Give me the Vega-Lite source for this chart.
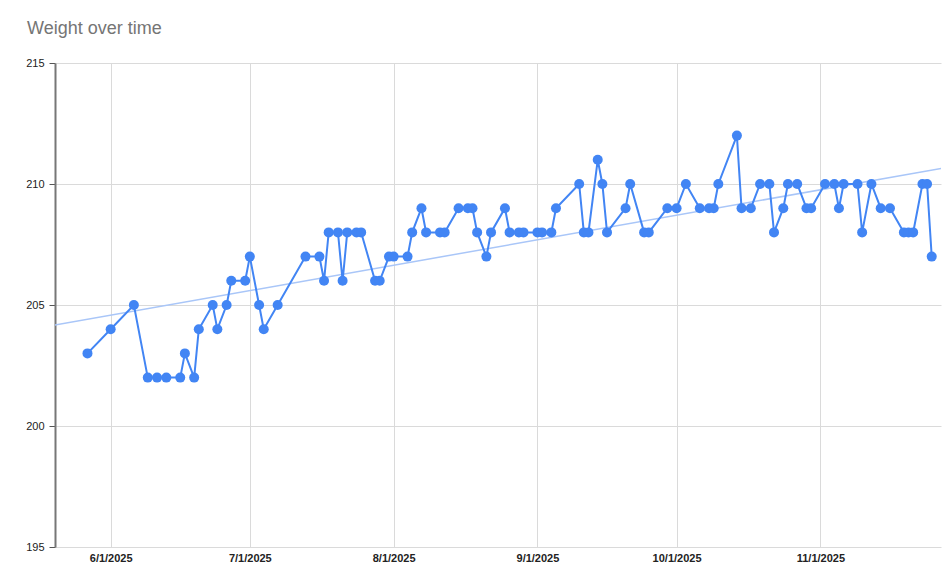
{
  "$schema": "https://vega.github.io/schema/vega-lite/v6.json",
  "width": 886,
  "height": 484,
  "autosize": {"type": "none"},
  "padding": {"left": 55, "top": 63, "right": 4, "bottom": 37},
  "background": "white",
  "title": {
    "text": "Weight over time",
    "anchor": "start",
    "frame": "group",
    "fontSize": 18,
    "fontWeight": "normal",
    "font": "Liberation Sans",
    "color": "#757575",
    "baseline": "alphabetic",
    "offset": 5,
    "dx": -28
  },
  "config": {
    "view": {"stroke": null},
    "font": "Liberation Sans"
  },
  "data": {
    "values": [
      {"date": "2025-05-27T00:00", "w": 203},
      {"date": "2025-06-01T00:00", "w": 204},
      {"date": "2025-06-06T00:00", "w": 205},
      {"date": "2025-06-09T00:00", "w": 202},
      {"date": "2025-06-11T00:00", "w": 202},
      {"date": "2025-06-13T00:00", "w": 202},
      {"date": "2025-06-16T00:00", "w": 202},
      {"date": "2025-06-17T00:00", "w": 203},
      {"date": "2025-06-19T00:00", "w": 202},
      {"date": "2025-06-20T00:00", "w": 204},
      {"date": "2025-06-23T00:00", "w": 205},
      {"date": "2025-06-24T00:00", "w": 204},
      {"date": "2025-06-26T00:00", "w": 205},
      {"date": "2025-06-27T00:00", "w": 206},
      {"date": "2025-06-30T00:00", "w": 206},
      {"date": "2025-07-01T00:00", "w": 207},
      {"date": "2025-07-03T00:00", "w": 205},
      {"date": "2025-07-04T00:00", "w": 204},
      {"date": "2025-07-07T00:00", "w": 205},
      {"date": "2025-07-13T00:00", "w": 207},
      {"date": "2025-07-16T00:00", "w": 207},
      {"date": "2025-07-17T00:00", "w": 206},
      {"date": "2025-07-18T00:00", "w": 208},
      {"date": "2025-07-20T00:00", "w": 208},
      {"date": "2025-07-21T00:00", "w": 206},
      {"date": "2025-07-22T00:00", "w": 208},
      {"date": "2025-07-24T00:00", "w": 208},
      {"date": "2025-07-25T00:00", "w": 208},
      {"date": "2025-07-28T00:00", "w": 206},
      {"date": "2025-07-29T00:00", "w": 206},
      {"date": "2025-07-31T00:00", "w": 207},
      {"date": "2025-08-01T00:00", "w": 207},
      {"date": "2025-08-04T00:00", "w": 207},
      {"date": "2025-08-05T00:00", "w": 208},
      {"date": "2025-08-07T00:00", "w": 209},
      {"date": "2025-08-08T00:00", "w": 208},
      {"date": "2025-08-11T00:00", "w": 208},
      {"date": "2025-08-12T00:00", "w": 208},
      {"date": "2025-08-15T00:00", "w": 209},
      {"date": "2025-08-17T00:00", "w": 209},
      {"date": "2025-08-18T00:00", "w": 209},
      {"date": "2025-08-19T00:00", "w": 208},
      {"date": "2025-08-21T00:00", "w": 207},
      {"date": "2025-08-22T00:00", "w": 208},
      {"date": "2025-08-25T00:00", "w": 209},
      {"date": "2025-08-26T00:00", "w": 208},
      {"date": "2025-08-28T00:00", "w": 208},
      {"date": "2025-08-29T00:00", "w": 208},
      {"date": "2025-09-01T00:00", "w": 208},
      {"date": "2025-09-02T00:00", "w": 208},
      {"date": "2025-09-04T00:00", "w": 208},
      {"date": "2025-09-05T00:00", "w": 209},
      {"date": "2025-09-10T00:00", "w": 210},
      {"date": "2025-09-11T00:00", "w": 208},
      {"date": "2025-09-12T00:00", "w": 208},
      {"date": "2025-09-14T00:00", "w": 211},
      {"date": "2025-09-15T00:00", "w": 210},
      {"date": "2025-09-16T00:00", "w": 208},
      {"date": "2025-09-20T00:00", "w": 209},
      {"date": "2025-09-21T00:00", "w": 210},
      {"date": "2025-09-24T00:00", "w": 208},
      {"date": "2025-09-25T00:00", "w": 208},
      {"date": "2025-09-29T00:00", "w": 209},
      {"date": "2025-10-01T00:00", "w": 209},
      {"date": "2025-10-03T00:00", "w": 210},
      {"date": "2025-10-06T00:00", "w": 209},
      {"date": "2025-10-08T00:00", "w": 209},
      {"date": "2025-10-09T00:00", "w": 209},
      {"date": "2025-10-10T00:00", "w": 210},
      {"date": "2025-10-14T00:00", "w": 212},
      {"date": "2025-10-15T00:00", "w": 209},
      {"date": "2025-10-17T00:00", "w": 209},
      {"date": "2025-10-19T00:00", "w": 210},
      {"date": "2025-10-21T00:00", "w": 210},
      {"date": "2025-10-22T00:00", "w": 208},
      {"date": "2025-10-24T00:00", "w": 209},
      {"date": "2025-10-25T00:00", "w": 210},
      {"date": "2025-10-27T00:00", "w": 210},
      {"date": "2025-10-29T00:00", "w": 209},
      {"date": "2025-10-30T00:00", "w": 209},
      {"date": "2025-11-02T00:00", "w": 210},
      {"date": "2025-11-04T00:00", "w": 210},
      {"date": "2025-11-05T00:00", "w": 209},
      {"date": "2025-11-06T00:00", "w": 210},
      {"date": "2025-11-09T00:00", "w": 210},
      {"date": "2025-11-10T00:00", "w": 208},
      {"date": "2025-11-12T00:00", "w": 210},
      {"date": "2025-11-14T00:00", "w": 209},
      {"date": "2025-11-16T00:00", "w": 209},
      {"date": "2025-11-19T00:00", "w": 208},
      {"date": "2025-11-20T00:00", "w": 208},
      {"date": "2025-11-21T00:00", "w": 208},
      {"date": "2025-11-23T00:00", "w": 210},
      {"date": "2025-11-24T00:00", "w": 210},
      {"date": "2025-11-25T00:00", "w": 207}
    ],
    "format": {"parse": {"date": "date"}}
  },
  "encoding": {
    "x": {
      "field": "date",
      "type": "temporal",
      "title": null,
      "scale": {
        "domain": [
          {"year": 2025, "month": 5, "date": 20},
          {"year": 2025, "month": 11, "date": 27}
        ]
      },
      "axis": {
        "values": [
          {"year": 2025, "month": 6, "date": 1},
          {"year": 2025, "month": 7, "date": 1},
          {"year": 2025, "month": 8, "date": 1},
          {"year": 2025, "month": 9, "date": 1},
          {"year": 2025, "month": 10, "date": 1},
          {"year": 2025, "month": 11, "date": 1}
        ],
        "format": "%-m/%-d/%Y",
        "domain": false,
        "ticks": false,
        "grid": true,
        "gridColor": "#dadada",
        "gridWidth": 1,
        "labelPadding": 5,
        "labelFontSize": 11,
        "labelFontWeight": "bold",
        "labelColor": "#222222",
        "labelFont": "Liberation Sans"
      }
    },
    "y": {
      "field": "w",
      "type": "quantitative",
      "title": null,
      "scale": {"domain": [195, 215], "nice": false, "zero": false},
      "axis": {
        "values": [195, 200, 205, 210, 215],
        "grid": true,
        "gridColor": "#dadada",
        "gridWidth": 1,
        "domain": true,
        "domainColor": "#777777",
        "domainWidth": 2,
        "ticks": true,
        "tickColor": "#555555",
        "tickSize": 6,
        "tickWidth": 1,
        "labelPadding": 5,
        "labelFontSize": 11,
        "labelColor": "#222222",
        "labelFont": "Liberation Sans"
      }
    }
  },
  "layer": [
    {
      "transform": [
        {"regression": "w", "on": "date", "extent": [1746835200000, 1764892800000]}
      ],
      "mark": {"type": "line", "color": "#a9c6f8", "strokeWidth": 1.5, "clip": true}
    },
    {
      "mark": {
        "type": "line",
        "color": "#4285f4",
        "strokeWidth": 2,
        "point": {"filled": true, "size": 100, "color": "#4285f4", "opacity": 1}
      }
    }
  ]
}
